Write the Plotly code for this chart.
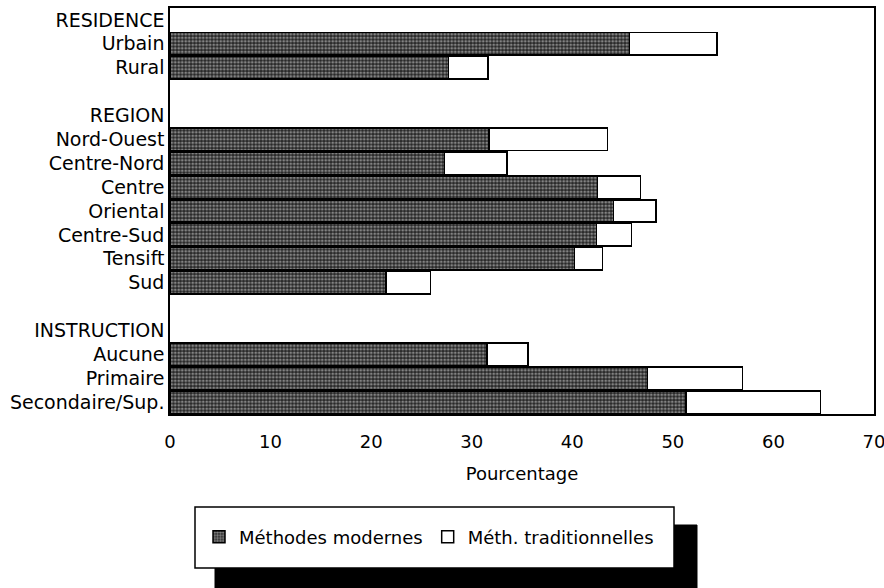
import plotly.graph_objects as go

# Row labels (group headers and blank spacer rows included)
row_labels = ["RESIDENCE", "Urbain", "Rural", "",
              "REGION", "Nord-Ouest", "Centre-Nord", "Centre", "Oriental",
              "Centre-Sud", "Tensift", "Sud", " ",
              "INSTRUCTION", "Aucune", "Primaire", "Secondaire/Sup."]

# Percentages (None for header / spacer rows)
modernes = [None, 45.7, 27.7, None,
            None, 31.7, 27.3, 42.5, 44.1, 42.4, 40.2, 21.5, None,
            None, 31.5, 47.5, 51.3]
traditionnelles = [None, 8.7, 3.9, None,
                   None, 11.8, 6.2, 4.3, 4.2, 3.5, 2.8, 4.4, None,
                   None, 4.1, 9.4, 13.4]

x_ticks = [0, 10, 20, 30, 40, 50, 60, 70]

rows = list(range(len(row_labels)))
FONT = "DejaVu Sans"

fig = go.Figure()
fig.add_trace(go.Bar(
    y=rows, x=modernes, orientation="h", name="Méthodes modernes",
    width=0.94,
    marker=dict(color="#2a2a2a",
                line=dict(color="black", width=1.5),
                pattern=dict(shape=".", bgcolor="#262626", fgcolor="#e0e0e0",
                             size=3.5, solidity=0.5)),
))
fig.add_trace(go.Bar(
    y=rows, x=traditionnelles, orientation="h", name="Méth. traditionnelles",
    width=0.94,
    marker=dict(color="white", line=dict(color="black", width=1.5)),
))

# plot area in pixels: left 170, right 874, top 8, bottom 414
PL, PR, PT, PB = 170, 874, 8, 414
W, H = PR - PL, PB - PT
def px_x(p):
    return (p - PL) / W
def px_y(p):
    return (PB - p) / H

shapes = [
    # legend shadow
    dict(type="rect", xref="paper", yref="paper",
         x0=px_x(215), x1=px_x(697), y0=px_y(600), y1=px_y(525),
         fillcolor="black", line=dict(color="black", width=1), layer="above"),
    # legend box
    dict(type="rect", xref="paper", yref="paper",
         x0=px_x(195), x1=px_x(674), y0=px_y(568), y1=px_y(507),
         fillcolor="white", line=dict(color="black", width=1.5), layer="above"),
]

fig.update_layout(
    width=884, height=588,
    margin=dict(l=PL, r=884 - PR, t=PT, b=588 - PB, autoexpand=False),
    barmode="stack",
    plot_bgcolor="white", paper_bgcolor="white",
    font=dict(family=FONT, size=18, color="black"),
    shapes=shapes,
    showlegend=True,
    legend=dict(orientation="h", x=px_x(199), xanchor="left",
                y=px_y(537), yanchor="middle",
                bgcolor="rgba(0,0,0,0)", borderwidth=0,
                font=dict(family=FONT, size=18, color="black"),
                traceorder="normal"),
    xaxis=dict(range=[0, 70], tickvals=x_ticks, showgrid=False, zeroline=False,
               automargin=False, ticklabeloverflow="allow",
               showline=True, linecolor="black", linewidth=1.5, mirror=True,
               ticks="outside", ticklen=11, tickcolor="rgba(0,0,0,0)",
               tickfont=dict(family=FONT, size=18),
               title=dict(text="Pourcentage", standoff=16,
                          font=dict(family=FONT, size=18))),
    yaxis=dict(range=[len(row_labels) - 0.5, -0.5], tickvals=rows,
               automargin=False,
               ticktext=row_labels, showgrid=False, zeroline=False,
               showline=True, linecolor="black", linewidth=1.5, mirror=True,
               ticks="", tickfont=dict(family=FONT, size=19)),
)

fig.write_html("out.html",
               config={"displayModeBar": False},
               post_script="document.body.style.margin='0';"
                           "document.body.style.overflow='hidden';")
